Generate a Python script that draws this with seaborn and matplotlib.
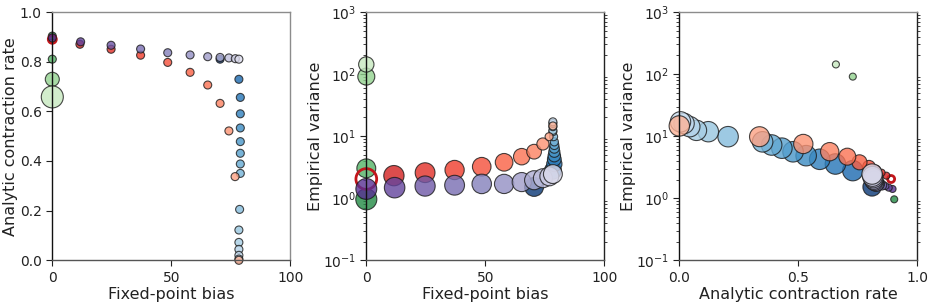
import numpy as np
import pandas as pd
import matplotlib
matplotlib.use("Agg")
import matplotlib.pyplot as plt
import seaborn as sns

# values
green_bias = [0, 0, 0, 0]
green_rate = [0.903, 0.81, 0.729, 0.658]
green_var = [0.96, 3.03, 91, 143]

red_bias = [0, 11.6, 24.7, 37.1, 48.5, 57.9, 65.3, 70.5, 74.2, 76.8, 78.4]
red_rate = [0.89, 0.87, 0.85, 0.826, 0.797, 0.757, 0.706, 0.632, 0.521, 0.337, 0.0]
red_var = [2.04, 2.31, 2.58, 2.85, 3.22, 3.79, 4.67, 5.62, 7.48, 9.8, 14.6]

purple_bias = [0, 11.9, 24.7, 37.1, 48.5, 57.9, 65.3, 70.5, 74.2, 76.9, 78.4]
purple_rate = [0.896, 0.880, 0.866, 0.851, 0.836, 0.827, 0.820, 0.817, 0.815, 0.812, 0.810]
purple_var = [1.41, 1.48, 1.57, 1.62, 1.70, 1.70, 1.82, 1.95, 2.10, 2.25, 2.45]

blue_bias = [70.5, 78.4, 79.0, 79.0, 79.0, 79.0, 79.0, 79.0, 79.0, 78.7, 78.4, 78.4, 78.4, 78.4, 78.4]
blue_rate = [0.81, 0.729, 0.656, 0.59, 0.533, 0.478, 0.431, 0.388, 0.350, 0.205, 0.122, 0.072, 0.044, 0.02, 0.005]
blue_var = [1.52, 2.78, 3.56, 4.24, 4.85, 5.6, 6.4, 7.2, 8.1, 9.8, 11.8, 12.4, 14.2, 16.0, 17.0]

sns.set_style("ticks")
plt.rcParams["font.family"] = ["DejaVu Sans"]
plt.rcParams["axes.labelcolor"] = "#222222"
plt.rcParams["xtick.color"] = "#222222"
plt.rcParams["ytick.color"] = "#222222"

# colours sampled from sequential colormaps
greens = list(plt.get_cmap("Greens")(np.linspace(0.75, 0.25, len(green_bias))))
ring_color = plt.get_cmap("Reds")(0.78)
reds = list(plt.get_cmap("Reds")(np.linspace(0.72, 0.28, len(red_bias) - 1)))
purples = list(plt.get_cmap("Purples")(np.linspace(0.85, 0.25, len(purple_bias))))
blues = [plt.get_cmap("Blues")(0.97)] + list(plt.get_cmap("Blues")(np.linspace(0.78, 0.22, len(blue_bias) - 1)))


def px_to_s(d):
    # marker diameter in pixels -> scatter size in pt^2 (dpi 100)
    return (np.asarray(d) * 0.72) ** 2


def draw(ax, x, y, d, colors):
    df = pd.DataFrame({"x": x, "y": y, "k": [str(i) for i in range(len(x))]})
    sns.scatterplot(data=df, x="x", y="y", hue="k", palette=colors,
                    s=px_to_s(d), edgecolor="#1a1a1a", linewidth=0.8,
                    alpha=0.8, legend=False, ax=ax, clip_on=False)


def ring(ax, x, y, d):
    ax.scatter([x], [y], s=px_to_s([d]), facecolors="none",
               edgecolors=[ring_color], linewidths=2.0, clip_on=False)


def panel(ax, x_of, y_of, size_of):
    series = [
        (green_bias, green_rate, green_var, greens),
        (blue_bias, blue_rate, blue_var, blues),
    ]
    for b, r, v, c in series:
        cols = {"bias": b, "rate": r, "var": v}
        draw(ax, cols[x_of], cols[y_of], size_of(np.array(b), np.array(r), np.array(v)), c)
    # red series: first point is an open ring
    cols = {"bias": red_bias, "rate": red_rate, "var": red_var}
    d = size_of(np.array(red_bias), np.array(red_rate), np.array(red_var))
    ring(ax, cols[x_of][0], cols[y_of][0], d[0])
    draw(ax, cols[x_of][1:], cols[y_of][1:], d[1:], reds)
    cols = {"bias": purple_bias, "rate": purple_rate, "var": purple_var}
    d = size_of(np.array(purple_bias), np.array(purple_rate), np.array(purple_var))
    draw(ax, cols[x_of], cols[y_of], d, purples)


fig = plt.figure(figsize=(9.34, 3.05), dpi=100)
lefts = [52.3 / 934, 366.3 / 934, 679.3 / 934]
axes = [fig.add_axes([l, 1 - 260.3 / 305, 238 / 934, 248.3 / 305]) for l in lefts]
ax1, ax2, ax3 = axes

# size encodes the variable not on the axes
panel(ax1, "bias", "rate", lambda b, r, v: np.maximum(8, 0.154 * v))
panel(ax2, "bias", "var", lambda b, r, v: np.maximum(8, 23.3 * r))
panel(ax3, "rate", "var", lambda b, r, v: np.maximum(7, 0.26 * b))

ax1.set_xlim(0, 100)
ax1.set_ylim(0, 1)
ax1.set_xticks([0, 50, 100])
ax1.set_yticks([0, 0.2, 0.4, 0.6, 0.8, 1.0])
ax1.set_yticklabels(["0.0", "0.2", "0.4", "0.6", "0.8", "1.0"])
ax1.set_xlabel("Fixed-point bias", fontsize=11.5, labelpad=2)
ax1.set_ylabel("Analytic contraction rate", fontsize=11.5, labelpad=1)

ax2.set_xlim(0, 100)
ax2.set_xticks([0, 50, 100])
ax2.set_xlabel("Fixed-point bias", fontsize=11.5, labelpad=2)

ax3.set_xlim(0, 1)
ax3.set_xticks([0, 0.5, 1.0])
ax3.set_xticklabels(["0.0", "0.5", "1.0"])
ax3.set_xlabel("Analytic contraction rate", fontsize=11.5, labelpad=2)

for ax in (ax2, ax3):
    ax.set_yscale("log")
    ax.set_ylim(0.1, 1000)
    ax.set_yticks([0.1, 1, 10, 100, 1000])
    ax.set_ylabel("Empirical variance", fontsize=11.5, labelpad=0)
    ax.tick_params(axis="y", which="minor", left=True, right=True,
                   length=2.5, width=0.6, direction="out")
    ax.spines["right"].set_color("#222222")

for ax in axes:
    ax.tick_params(which="major", labelsize=10, length=4, width=0.8)
    ax.tick_params(axis="y", which="major", right=False)
    for side in ["top", "bottom", "right", "left"]:
        ax.spines[side].set_linewidth(1.0)
    ax.spines["top"].set_color("#8c8c8c")
    ax.spines["bottom"].set_color("#555555")
    ax.spines["left"].set_color("#111111")
ax1.spines["right"].set_color("#8c8c8c")

fig.savefig("out.png", dpi=100)
